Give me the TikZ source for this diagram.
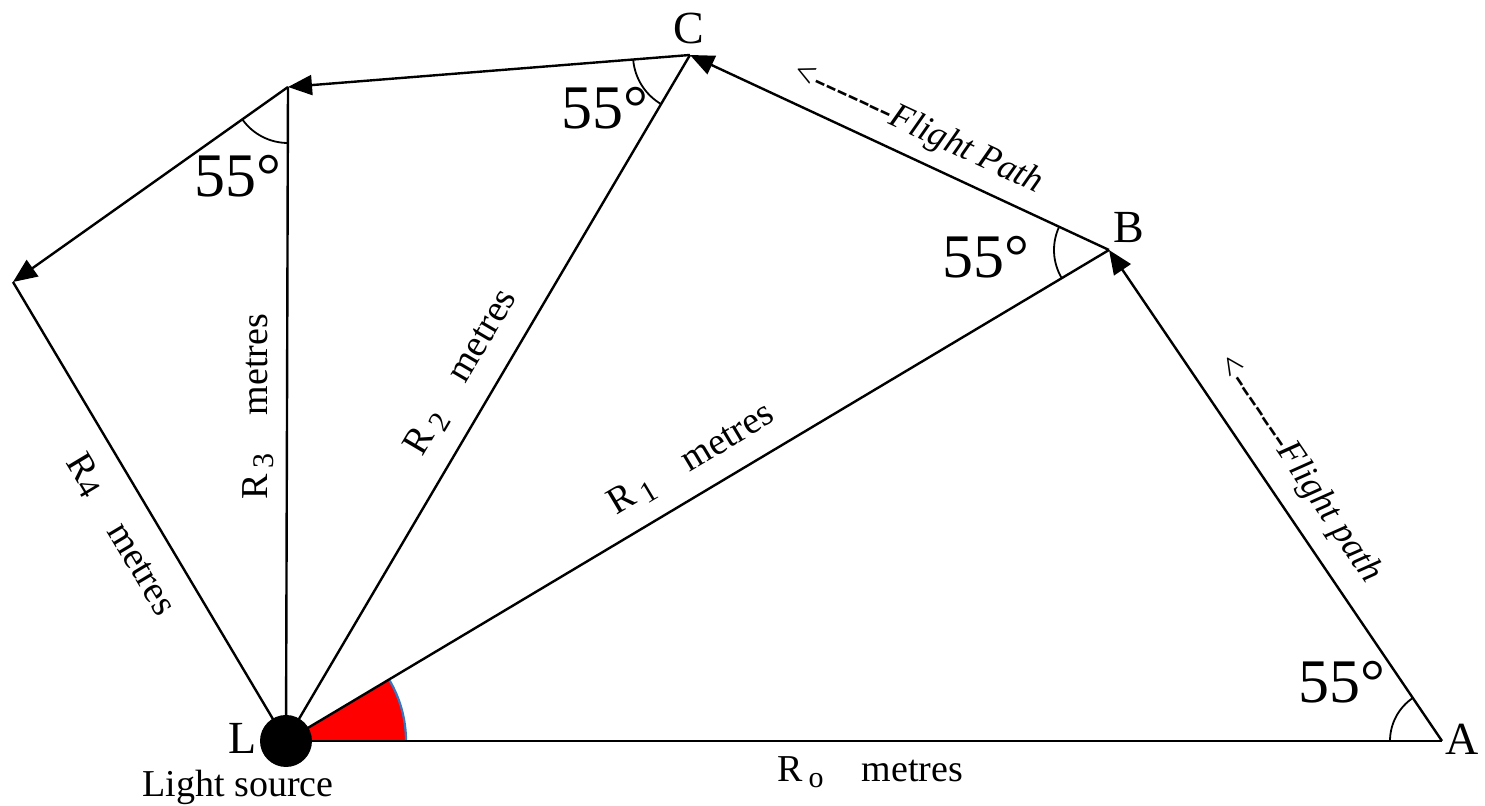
\documentclass[tikz,border=0pt]{standalone}
\usepackage{fontspec}
\setmainfont{Liberation Serif}
\usepackage{tikz}
\usetikzlibrary{arrows.meta}
\definecolor{arcBlue}{RGB}{52,120,196}
\newcommand{\Rs}[1]{R\,\raisebox{-0.35ex}{\fontsize{15}{15}\selectfont #1}}

\begin{document}
\begin{tikzpicture}[x=0.5pt,y=0.5pt,
  side/.style={line width=1.2pt,draw=black},
  fly/.style={side,-{Triangle[length=12pt,width=10pt]}},
  ang/.style={line width=0.9pt},
  ptlbl/.style={font=\fontsize{23}{26}\selectfont},
  deg/.style={font=\fontsize{31}{34}\selectfont},
  dist/.style={font=\fontsize{19}{22}\selectfont},
  fplbl/.style={font=\fontsize{18}{20}\selectfont\itshape}]
\useasboundingbox (0,0) rectangle (1485,806);
% corner points
\coordinate (L) at (286,65);
\coordinate (A) at (1442,65);
\coordinate (B) at (1109,556);
\coordinate (C) at (690,751);
\coordinate (D) at (288,719);
\coordinate (E) at (13,524);
% red sector at the source
\fill[red] (L) -- ++(0:120) arc[start angle=0,end angle=30.8,radius=120] -- cycle;
\draw[arcBlue,line width=1.1pt] (L) ++(0:120) arc[start angle=0,end angle=30.8,radius=120];
% rays from the source
\draw[side] (L) -- (A);
\draw[side] (L) -- (B);
\draw[side] (L) -- (C);
\draw[side] (L) -- (D);
\draw[side] (L) -- (E);
% flight path
\draw[fly] (A) -- (B);
\draw[fly] (B) -- (C);
\draw[fly] (C) -- (D);
\draw[fly] (D) -- (E);
% angle marks
\draw[ang] (A) ++(180:52) arc[start angle=180,end angle=124.1,radius=52];
\draw[ang] (B) ++(155:55) arc[start angle=155,end angle=210.8,radius=55];
\draw[ang] (C) ++(184.6:57) arc[start angle=184.6,end angle=239.5,radius=57];
\draw[ang] (D) ++(215.3:56) arc[start angle=215.3,end angle=270,radius=56];
\node[circle,fill=black,inner sep=0pt,minimum size=26pt] (dot) at (L) {};
% labels
\node[ptlbl] (lL) at (243,68) {L};
\node[ptlbl] (lA) at (1462,67) {A};
\node[ptlbl] (lB) at (1129,578) {B};
\node[ptlbl] (lC) at (689,777) {C};
\node[dist] (src) at (238,19) {Light source};
\node[deg] (dA) at (1342,124) {55°};
\node[deg] (dB) at (986,549) {55°};
\node[deg] (dC) at (605,698) {55°};
\node[deg] (dD) at (238,630) {55°};
\node[dist] (r0) at (870,34) {\Rs{o}\quad metres};
\node[dist,rotate=30.8] (r1) at (692,346) {\Rs{1}\quad metres};
\node[dist,rotate=59.5] (r2) at (462,433) {\Rs{2}\quad metres};
\node[dist,rotate=90] (r3) at (258,399) {\Rs{3}\quad metres};
\node[dist,rotate=-59.1] (r4) at (121,271) {R\raisebox{-0.2ex}{\fontsize{16}{16}\selectfont 4}\quad metres};
\node[fplbl,rotate=-25] (fBC) at (917,678) {\textless-{}-{}-{}-{}-{}-{}-Flight Path};
\node[fplbl,rotate=-55.9] (fAB) at (1298,338) {\textless-{}-{}-{}-{}-{}-{}-Flight path};
\end{tikzpicture}
\end{document}
